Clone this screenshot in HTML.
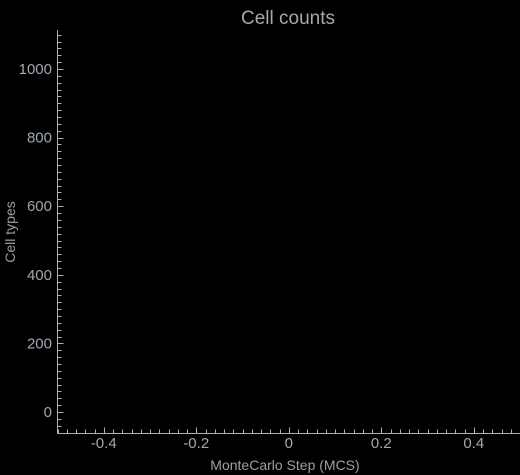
<!DOCTYPE html>
<html><head><meta charset="utf-8"><style>
html,body{margin:0;padding:0;background:#000;}
svg{display:block;font-family:"Liberation Sans","DejaVu Sans",sans-serif;}
</style></head><body>
<svg id="chart" width="520" height="475">
<rect width="520" height="475" fill="#000"/>
<text x="288" y="24" text-anchor="middle" font-size="19" fill="#a8a8a8">Cell counts</text>
<text x="285" y="470" text-anchor="middle" font-size="14" fill="#9aa0a8">MonteCarlo Step (MCS)</text>
<text transform="translate(15,232) rotate(-90)" text-anchor="middle" font-size="14" fill="#9aa0a8">Cell types</text>
<g id="axes"></g>
</svg>
<script>
const xTicks=[-0.4,-0.2,0,0.2,0.4];
const yTicks=[0,200,400,600,800,1000];
const xDomain=[-0.5,0.5];
const yDomain=[-60,1100];
const L=57.5,R=520,T=30,B=433.5;
function xs(v){return L+(v-xDomain[0])/(xDomain[1]-xDomain[0])*(R-L);}
function ys(v){return 412+(v-0)*(69-412)/1000;}
const g=document.getElementById('axes');
const NS='http://www.w3.org/2000/svg';
function mk(t,a){const e=document.createElementNS(NS,t);for(const k in a)e.setAttribute(k,a[k]);g.appendChild(e);return e;}
const c='#b0b0b0';
let e=mk('line',{x1:L,y1:T,x2:L,y2:B,stroke:c,'stroke-width':1});


e=mk('line',{x1:L,y1:B,x2:R,y2:B,stroke:c,'stroke-width':1});


for(let v=-0.5;v<=0.5001;v+=0.02){const x=Math.round(xs(v))+0.5;const maj=Math.abs(v*10-Math.round(v*10))<1e-6&&Math.round(v*10)%2===0;
mk('line',{x1:x,y1:B,x2:x,y2:B-(maj?6:4),stroke:c});}
for(let v=-40;v<=1100;v+=20){const y=Math.round(ys(v))+0.5;if(y<T)continue;const maj=v%200===0;
mk('line',{x1:L,y1:y,x2:L+(maj?6:4),y2:y,stroke:c});}
xTicks.forEach(v=>{const t=mk('text',{x:xs(v),y:448,'text-anchor':'middle','font-size':15,fill:'#a0a8b0'});t.textContent=(v===0?'0':v.toFixed(1));

});
yTicks.forEach(v=>{const t=mk('text',{x:52,y:ys(v)+5,'text-anchor':'end','font-size':15,fill:'#a0a8b0'});t.textContent=v;

});
</script>
</body></html>
